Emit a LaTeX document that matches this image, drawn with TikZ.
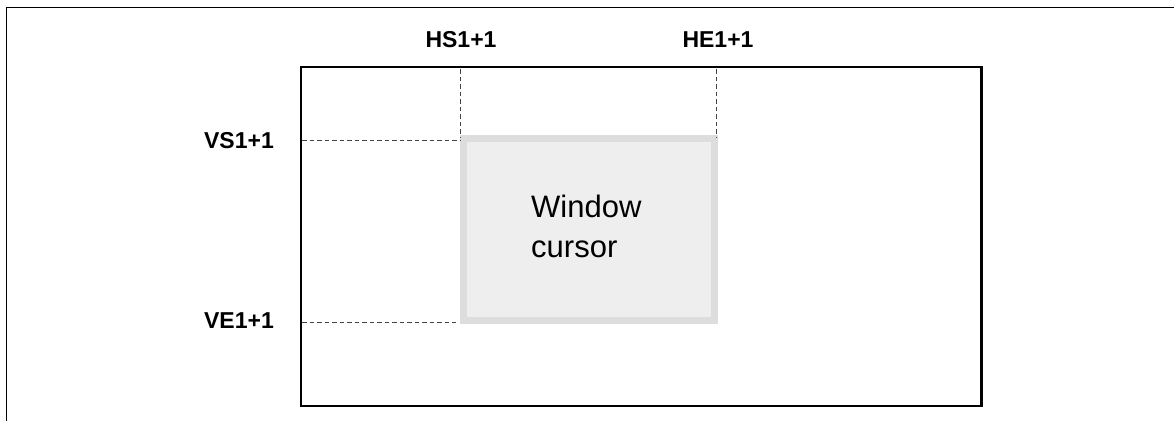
\documentclass[tikz,border=0pt]{standalone}
\usepackage{fontspec}
\setmainfont{Liberation Sans}
\begin{document}
\begin{tikzpicture}[x=1pt,y=-1pt,
  frameline/.style={line width=1.5pt,black},
  screenbox/.style={draw=black,line width=2.2pt,fill=white,inner sep=0pt,outer sep=0pt},
  winbox/.style={draw=wingray,line width=7pt,fill=winfill,inner sep=0pt,outer sep=0pt},
  guide/.style={draw=guidegray,line width=0.9pt,dash pattern=on 4.5pt off 3pt},
  lbl/.style={font=\fontsize{23}{23}\selectfont\bfseries,inner sep=0pt},
  wintext/.style={font=\fontsize{31}{31}\selectfont,inner sep=0pt}]
\definecolor{wingray}{HTML}{DDDDDD}
\definecolor{winfill}{HTML}{EEEEEE}
\definecolor{guidegray}{HTML}{444444}
\useasboundingbox (0,0) rectangle (1174,421);
% outer frame (top and left edges only)
\coordinate (ftl) at (6.5,7.5);
\coordinate (ftr) at (1174,7.5);
\coordinate (fbl) at (6.5,421);
\draw[frameline] (ftr) -- (ftl) -- (fbl);
% screen
\node[screenbox,minimum width=680.5pt,minimum height=339pt,anchor=north west] (screen) at (301,67) {};
% window cursor
\node[winbox,minimum width=251pt,minimum height=182pt,anchor=north west] (win) at (463.5,138.5) {};
\node[wintext,anchor=base west] (wt1) at (531,217) {Window};
\node[wintext,anchor=base west] (wt2) at (531,257) {cursor};
% guide coordinates
\coordinate (hs0) at (460,69);
\coordinate (hs1) at (460,138);
\coordinate (he0) at (716,69);
\coordinate (he1) at (716,138);
\coordinate (vs0) at (302,140);
\coordinate (vs1) at (460,140);
\coordinate (ve0) at (302,322);
\coordinate (ve1) at (456,322);
\draw[guide] (hs0) -- (hs1);
\draw[guide] (he0) -- (he1);
\draw[guide] (vs0) -- (vs1);
\draw[guide] (ve0) -- (ve1);
% labels
\node[lbl,anchor=base] (hsl) at (461,47) {HS1+1};
\node[lbl,anchor=base] (hel) at (718,47) {HE1+1};
\node[lbl,anchor=base east] (vsl) at (274,148) {VS1+1};
\node[lbl,anchor=base east] (vel) at (274,328) {VE1+1};
\end{tikzpicture}
\end{document}
